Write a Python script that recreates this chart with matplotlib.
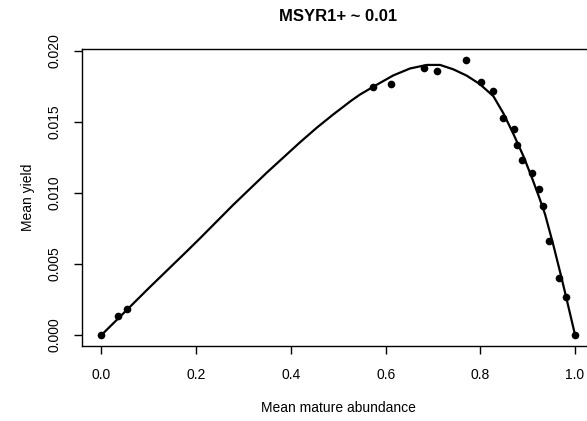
import matplotlib
matplotlib.use("Agg")
import matplotlib.pyplot as plt

plt.rcParams['font.family'] = ['Liberation Sans', 'DejaVu Sans']

# Observed points
obs_x = [0.0, 0.0355, 0.0545, 0.574, 0.611, 0.680, 0.708, 0.770, 0.8015, 0.8275,
         0.8486, 0.872, 0.877, 0.889, 0.910, 0.924, 0.933, 0.945, 0.967, 0.981, 1.0]
obs_y = [0.0, 0.00134, 0.00183, 0.01743, 0.01766, 0.01876, 0.01860, 0.01935, 0.01782, 0.01719,
         0.01529, 0.01449, 0.01337, 0.01231, 0.01138, 0.01027, 0.00908, 0.00661, 0.00399, 0.00270, 0.0]

# Fitted curve
curve_x = [0.0, 0.055, 0.1, 0.183, 0.208, 0.278, 0.349, 0.419, 0.4545, 0.4895, 0.528,
           0.546, 0.581, 0.616, 0.6515, 0.687, 0.715, 0.743, 0.771, 0.799, 0.8275,
           0.8486, 0.8697, 0.891, 0.9085, 0.9246, 0.9366, 0.954, 0.972, 0.988, 1.0]
curve_y = [0.0, 0.00181, 0.0033, 0.00598, 0.0068, 0.00915, 0.01142, 0.01355, 0.01458, 0.01552, 0.01650,
           0.01692, 0.0176, 0.01826, 0.01875, 0.0190, 0.0190, 0.01869, 0.01825, 0.01765, 0.0168,
           0.0156, 0.01415, 0.01258, 0.0111, 0.00965, 0.0085, 0.00635, 0.00395, 0.0017, 0.0]

x_ticks = [0.0, 0.2, 0.4, 0.6, 0.8, 1.0]
x_tick_labels = ["0.0", "0.2", "0.4", "0.6", "0.8", "1.0"]
y_ticks = [0.000, 0.005, 0.010, 0.015, 0.020]
y_tick_labels = ["0.000", "0.005", "0.010", "0.015", "0.020"]

W, H = 587, 421
fig = plt.figure(figsize=(W / 100, H / 100), dpi=100)
left_px, right_px, top_px, bot_px = 82.3, 594.0, 49.3, 345.5
ax = fig.add_axes([left_px / W, (H - bot_px) / H, (right_px - left_px) / W, (bot_px - top_px) / H])

ax.plot(curve_x, curve_y, color='black', lw=1.6, solid_joinstyle='round')
ax.plot(obs_x, obs_y, 'o', color='black', markersize=5.5, markeredgewidth=0)

ax.set_xlim(-0.0405, 1.04)
ax.set_ylim(-0.00074, 0.0201)

ax.set_xticks(x_ticks)
ax.set_xticklabels(x_tick_labels)
ax.set_yticks(y_ticks)
ax.set_yticklabels(y_tick_labels, rotation=90, va='center')

ax.tick_params(axis='both', direction='out', length=6, width=1, colors='black', labelsize=10)
ax.tick_params(axis='x', pad=10)
ax.tick_params(axis='y', pad=9)

ax.spines['right'].set_visible(False)
for s in ['left', 'bottom', 'top']:
    ax.spines[s].set_linewidth(1.0)
    ax.spines[s].set_color('black')

fig.text(338 / W, 1 - 16.5 / H, "MSYR1+ ~ 0.01", ha='center', va='center',
         fontsize=12, fontweight='bold')
fig.text(338 / W, 1 - 408 / H, "Mean mature abundance", ha='center', va='center', fontsize=10)
fig.text(28 / W, 1 - 197 / H, "Mean yield", ha='center', va='center', rotation=90, fontsize=10)

fig.savefig("out.png", dpi=100)
